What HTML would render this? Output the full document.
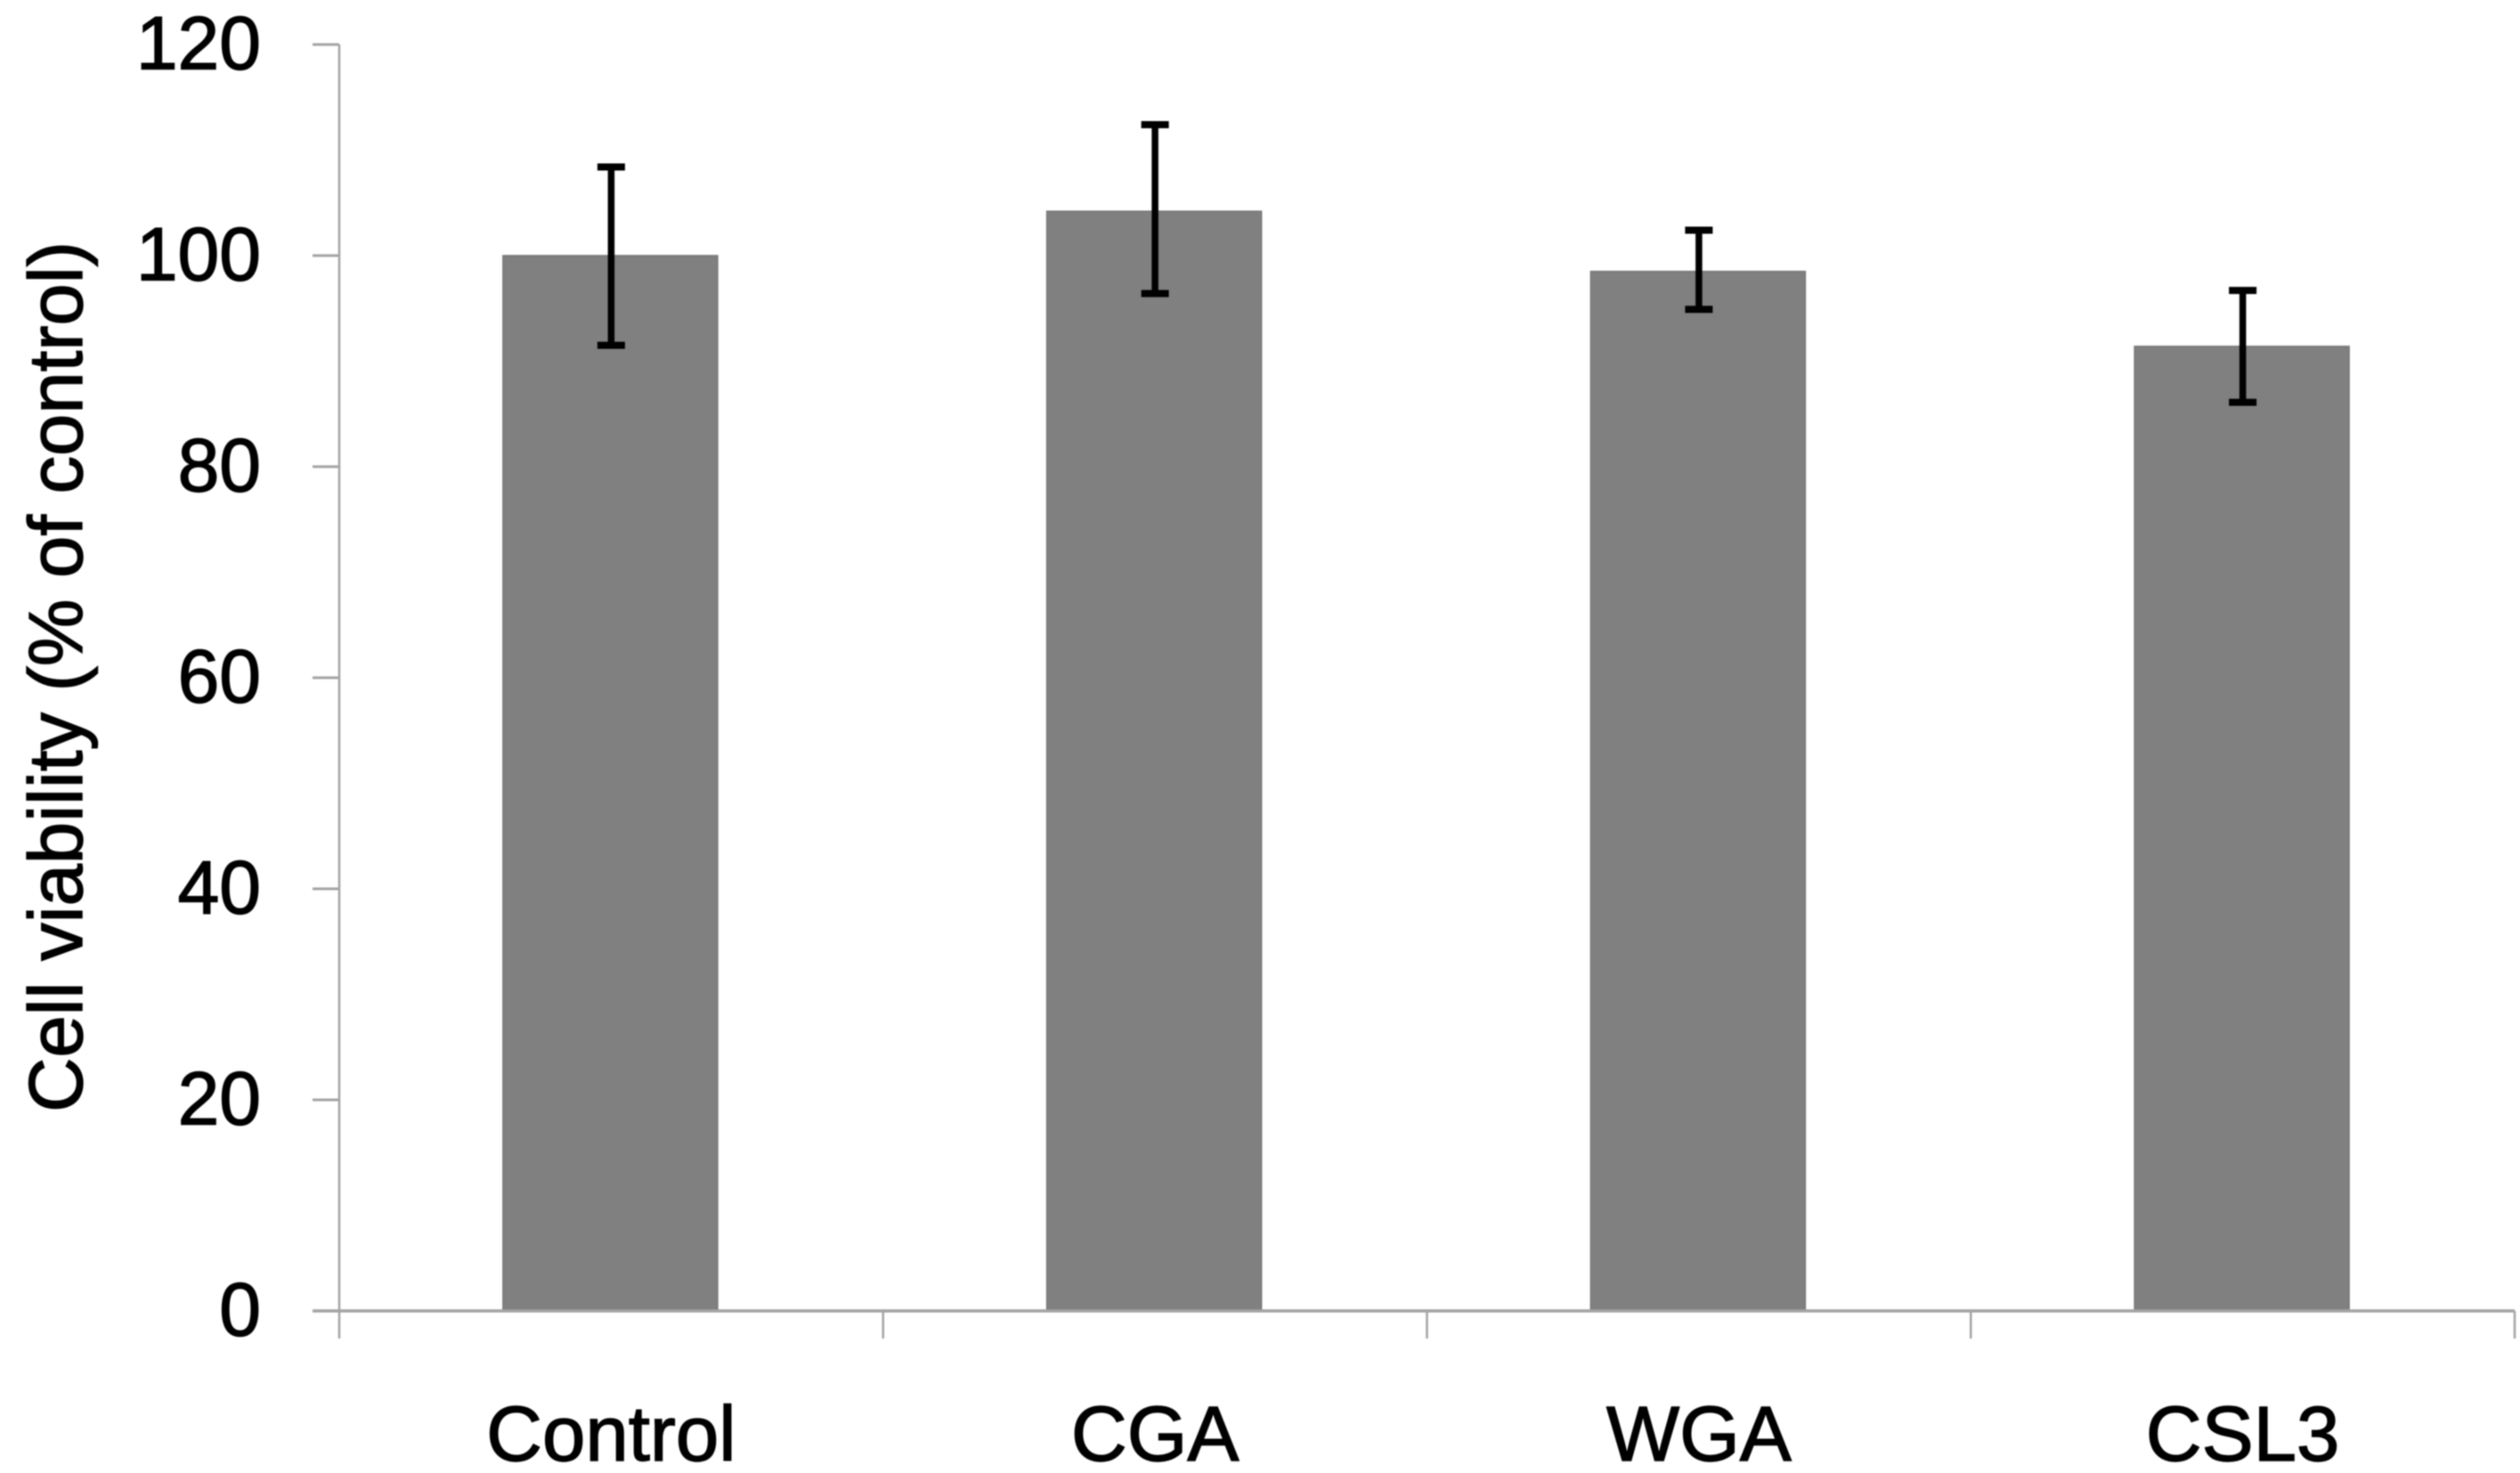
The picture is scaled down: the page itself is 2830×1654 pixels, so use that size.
<!DOCTYPE html>
<html lang="en">
<head>
<meta charset="utf-8">
<title>Cell viability chart</title>
<style>
html,body{margin:0;padding:0;background:#fff;}
svg{display:block;filter:blur(0.7px);}
text{font-family:"Liberation Sans",Arial,sans-serif;fill:#000;stroke:#000;stroke-width:1.4px;}
</style>
</head>
<body>
<svg id="chart" xmlns="http://www.w3.org/2000/svg" width="2830" height="1654" viewBox="0 0 2830 1654">
  <rect x="0" y="0" width="2830" height="1654" fill="#ffffff"/>
  <text id="y-title" font-size="85" text-anchor="middle" transform="translate(92 760) rotate(-90)">Cell viability (% of control)</text>
</svg>
<script>
const categories = ["Control", "CGA", "WGA", "CSL3"];
const viability = [100, 104.2, 98.5, 91.4];
const errorHigh = [108.4, 112.4, 102.4, 96.7];
const errorLow = [91.5, 96.4, 94.9, 86.1];
const yTicks = [0, 20, 40, 60, 80, 100, 120];

const svg = document.getElementById('chart');
const NS = 'http://www.w3.org/2000/svg';
const plot = { left: 381, right: 2824, top: 50, bottom: 1472 };
const yMax = 120;
const barWidth = 241;
const band = (plot.right - plot.left) / categories.length;

function yScale(v) { return plot.bottom - (v / yMax) * (plot.bottom - plot.top); }
function xCenter(i) { return plot.left + band * (i + 0.5) - 1; }
function edgeX(i) { return plot.left + band * i; }

function make(tag, attrs) {
  const el = document.createElementNS(NS, tag);
  for (const k in attrs) el.setAttribute(k, attrs[k]);
  svg.appendChild(el);
  return el;
}

const axisColor = '#a3a3a3';

const yAxis = make('line', { x1: plot.left, x2: plot.left, y1: plot.top, y2: plot.bottom + 31, stroke: axisColor, 'stroke-width': 2.5 });



yTicks.forEach(function (t) {
  const y = yScale(t);
  const tick = make('line', { x1: plot.left - 30, x2: plot.left, y1: y, y2: y, stroke: axisColor, 'stroke-width': 3 });
  
  
  const label = make('text', { x: 293, y: y + 27.5, 'font-size': 84, 'text-anchor': 'end' });
  label.textContent = String(t);
  
  
});

categories.forEach(function (c, i) {
  const x = xCenter(i);
  const top = yScale(viability[i]);
  const bar = make('rect', { x: x - barWidth / 2, y: top, width: barWidth, height: plot.bottom - top, fill: '#808080', stroke: '#777777', 'stroke-width': 1.5 });
  
  
});

const xAxis = make('line', { x1: plot.left - 30, x2: plot.right, y1: plot.bottom, y2: plot.bottom, stroke: axisColor, 'stroke-width': 3.5 });



for (let i = 1; i <= categories.length; i++) {
  const tx = edgeX(i);
  const xTick = make('line', { x1: tx, x2: tx, y1: plot.bottom, y2: plot.bottom + 31, stroke: axisColor, 'stroke-width': 2.5 });
  
  
}

categories.forEach(function (c, i) {
  const x = xCenter(i) + 1;
  const hi = yScale(errorHigh[i]);
  const lo = yScale(errorLow[i]);
  const stem = make('line', { x1: x, x2: x, y1: hi, y2: lo, stroke: '#000000', 'stroke-width': 7.5 });
  
  
  const capHi = make('line', { x1: x - 15.5, x2: x + 15.5, y1: hi, y2: hi, stroke: '#000000', 'stroke-width': 8 });
  
  
  const capLo = make('line', { x1: x - 15.5, x2: x + 15.5, y1: lo, y2: lo, stroke: '#000000', 'stroke-width': 8 });
  
  
  const catLabel = make('text', { x: xCenter(i) + 1, y: 1640, 'font-size': 87, 'text-anchor': 'middle' });
  catLabel.textContent = c;
  
  
});
</script>
</body>
</html>
